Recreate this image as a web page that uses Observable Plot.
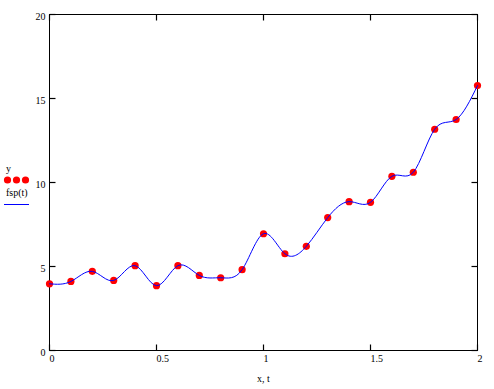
<!DOCTYPE html>
<html>
<head>
<meta charset="utf-8">
<script src="https://cdn.jsdelivr.net/npm/d3@7"></script>
<script src="https://cdn.jsdelivr.net/npm/@observablehq/plot@0.6"></script>
<style>
  html, body { margin: 0; padding: 0; background: #fff; }
  #wrap { position: relative; width: 494px; height: 389px; }
  text { font-family: "Liberation Serif", "DejaVu Serif", serif; }
</style>
</head>
<body>
<div id="wrap"></div>
<script>
const xValues = [0, 0.1, 0.2, 0.3, 0.4, 0.5, 0.6, 0.7, 0.8, 0.9, 1.0, 1.1, 1.2, 1.3, 1.4, 1.5, 1.6, 1.7, 1.8, 1.9, 2.0];
const yValues = [3.97, 4.11, 4.71, 4.17, 5.05, 3.86, 5.05, 4.47, 4.33, 4.81, 6.95, 5.76, 6.20, 7.91, 8.86, 8.82, 10.37, 10.61, 13.17, 13.75, 15.77];
const xTicks = [0, 0.5, 1, 1.5, 2];
const yTicks = [0, 5, 10, 15, 20];
const xTickLabels = ["0", "0.5", "1", "1.5", "2"];
const yTickLabels = ["0", "5", "10", "15", "20"];
const xTitle = "x, t";
const legendLabels = ["y", "fsp(t)"];

const data = xValues.map((x, i) => ({x, y: yValues[i]}));
const font = "Liberation Serif, DejaVu Serif, serif";

const W = 494, H = 389, mL = 49, mR = 17, mT = 14, mB = 39;
const innerW = W - mL - mR, innerH = H - mT - mB, tk = 6;
const xDomain = [0, 2], yDomain = [0, 20];
const tkY = (yDomain[1] - yDomain[0]) * tk / innerH;
const tkX = (xDomain[1] - xDomain[0]) * tk / innerW;

const tickRows = [];
xTicks.forEach(v => {
  tickRows.push({x1: v, x2: v, y1: yDomain[0], y2: yDomain[0] + tkY});
  tickRows.push({x1: v, x2: v, y1: yDomain[1] - tkY, y2: yDomain[1]});
});
yTicks.forEach(v => {
  tickRows.push({x1: xDomain[0], x2: xDomain[0] + tkX, y1: v, y2: v});
  tickRows.push({x1: xDomain[1] - tkX, x2: xDomain[1], y1: v, y2: v});
});

const chart = Plot.plot({
  width: W,
  height: H,
  marginLeft: mL,
  marginRight: mR,
  marginTop: mT,
  marginBottom: mB,
  style: {fontFamily: font, fontSize: "10px", background: "white"},
  x: {domain: xDomain, axis: null},
  y: {domain: yDomain, axis: null},
  marks: [
    Plot.frame({stroke: "black", strokeWidth: 1}),
    Plot.link(tickRows, {x1: "x1", x2: "x2", y1: "y1", y2: "y2", stroke: "black", strokeWidth: 1.2}),
    Plot.text(xTicks, {x: d => d, text: (d, i) => xTickLabels[i], frameAnchor: "bottom", textAnchor: "start", lineAnchor: "top", dy: 4, fill: "black"}),
    Plot.text(yTicks, {y: d => d, text: (d, i) => yTickLabels[i], frameAnchor: "left", textAnchor: "end", dx: -4, dy: 2, fill: "black"}),
    Plot.text([xTitle], {text: d => d, frameAnchor: "bottom", lineAnchor: "top", dy: 24, fill: "black"}),
    Plot.dot(data, {x: "x", y: "y", r: 3.6, fill: "#ff0000", stroke: null}),
    Plot.line(data, {x: "x", y: "y", curve: "natural", stroke: "#0000ff", strokeWidth: 1})
  ]
});
document.getElementById("wrap").appendChild(chart);

// legend (left margin, Mathcad style)
const leg = d3.select("#wrap").append("svg")
  .attr("width", 40).attr("height", 389)
  .style("position", "absolute").style("left", "0px").style("top", "0px");
leg.append("text").attr("x", 6).attr("y", 172).attr("font-size", 10).attr("font-family", font).text(legendLabels[0]);
[7.5, 16.5, 25.5].forEach(cx => leg.append("circle").attr("cx", cx).attr("cy", 180).attr("r", 3.6).attr("fill", "#ff0000"));
leg.append("text").attr("x", 6).attr("y", 196).attr("font-size", 10).attr("font-family", font).text(legendLabels[1]);
leg.append("line").attr("x1", 4).attr("x2", 29).attr("y1", 204.5).attr("y2", 204.5).attr("stroke", "#0000ff").attr("stroke-width", 1);
</script>
</body>
</html>
